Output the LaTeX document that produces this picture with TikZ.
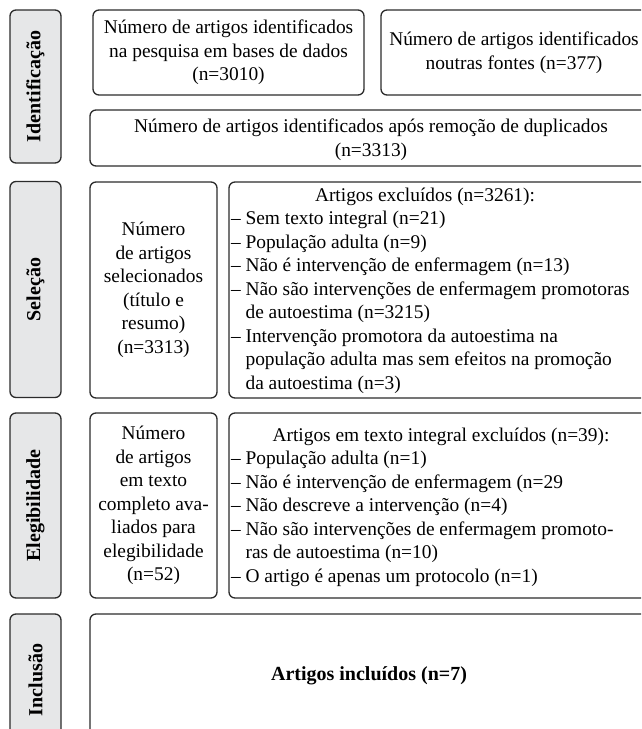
\documentclass[tikz,border=0pt]{standalone}
\usepackage{fontspec}
\setmainfont{Liberation Serif}
\definecolor{labelgray}{HTML}{E6E7E8}
\definecolor{edge}{HTML}{2B2B2B}
\begin{document}
\begin{tikzpicture}[x=1pt,y=-1pt,
  every node/.style={inner sep=0pt,outer sep=0pt},
  frame/.style={draw=edge,line width=1.3pt,rounded corners=6pt,anchor=north west},
  tagbox/.style={frame,fill=labelgray},
  body/.style={font=\fontsize{19.4}{23.5}\selectfont,align=center},
  rowtxt/.style={font=\fontsize{19.4}{23.5}\selectfont,anchor=base west},
  headtxt/.style={font=\fontsize{19.4}{23.5}\selectfont,anchor=base},
  tagtxt/.style={font=\fontsize{20}{24}\selectfont\bfseries,rotate=90},
]
\path[use as bounding box,clip] (0,0) rectangle (641,729);

% ---------- Identificação ----------
\node[tagbox,minimum width=51pt,minimum height=153pt] (L1) at (10,10) {};
\node[tagtxt] (L1t) at (L1.center) {Identificação};
\node[frame,minimum width=271pt,minimum height=85pt] (b1) at (93,10) {};
\node[body] (b1t) at (b1.center) {Número de artigos identificados\\na pesquisa em bases de dados\\(n=3010)};
\node[frame,minimum width=266pt,minimum height=85pt] (b2) at (381,10) {};
\node[body] (b2t) at (b2.center) {Número de artigos identificados\\noutras fontes (n=377)};
\node[frame,minimum width=580pt,minimum height=56pt] (b3) at (90,110) {};
\node[headtxt] (b3a) at (371,132) {Número de artigos identificados após remoção de duplicados};
\node[headtxt] (b3b) at (371,156) {(n=3313)};

% ---------- Seleção ----------
\node[tagbox,minimum width=51pt,minimum height=216pt] (L2) at (10,181.5) {};
\node[tagtxt] (L2t) at (L2.center) {Seleção};
\node[frame,minimum width=127pt,minimum height=216pt] (s1) at (90,182) {};
\node[body] (s1t) at (s1.center) {Número\\de artigos\\selecionados\\(título e\\resumo)\\(n=3313)};
\node[frame,minimum width=440pt,minimum height=216pt] (s2) at (229,182) {};
\node[headtxt] (s2h) at (425,201) {Artigos excluídos (n=3261):};
\foreach \t [count=\i] in {%
  {– Sem texto integral (n=21)},
  {– População adulta (n=9)},
  {– Não é intervenção de enfermagem (n=13)},
  {– Não são intervenções de enfermagem promotoras},
  {\phantom{– }de autoestima (n=3215)},
  {– Intervenção promotora da autoestima na},
  {\phantom{– }população adulta mas sem efeitos na promoção},
  {\phantom{– }da autoestima (n=3)}}
  \node[rowtxt] (s2r\i) at (231,{201+\i*23.5}) {\t};

% ---------- Elegibilidade ----------
\node[tagbox,minimum width=51pt,minimum height=185pt] (L3) at (10,413) {};
\node[tagtxt] (L3t) at (L3.center) {Elegibilidade};
\node[frame,minimum width=127pt,minimum height=185pt] (e1) at (90,413) {};
\node[body] (e1t) at (e1.center) {Número\\de artigos\\em texto\\completo ava-\\liados para\\elegibilidade\\(n=52)};
\node[frame,minimum width=440pt,minimum height=185pt] (e2) at (229,413) {};
\node[headtxt] (e2h) at (441,441) {Artigos em texto integral excluídos (n=39):};
\foreach \t [count=\i] in {%
  {– População adulta (n=1)},
  {– Não é intervenção de enfermagem (n=29},
  {– Não descreve a intervenção (n=4)},
  {– Não são intervenções de enfermagem promoto-},
  {\phantom{– }ras de autoestima (n=10)},
  {– O artigo é apenas um protocolo (n=1)}}
  \node[rowtxt] (e2r\i) at (231,{441+\i*23.5}) {\t};

% ---------- Inclusão ----------
\node[tagbox,minimum width=51pt,minimum height=132pt] (L4) at (10,614) {};
\node[tagtxt] (L4t) at (L4.center) {Inclusão};
\node[frame,minimum width=580pt,minimum height=132pt] (i1) at (90,614) {};
\node[font=\fontsize{20}{24}\selectfont\bfseries] (i1t) at (369,676) {Artigos incluídos (n=7)};
\end{tikzpicture}
\end{document}
